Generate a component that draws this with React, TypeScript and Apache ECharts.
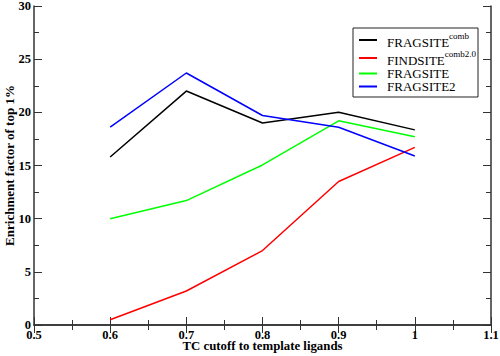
import React, { useEffect, useRef } from "react";
import * as echarts from "echarts";

const xValues = [0.6, 0.7, 0.8, 0.9, 1.0];
const fragsiteComb = [15.8, 22.0, 19.0, 20.0, 18.35];
const findsiteComb = [0.5, 3.2, 7.0, 13.5, 16.7];
const fragsite = [10.0, 11.7, 15.05, 19.2, 17.7];
const fragsite2 = [18.6, 23.7, 19.7, 18.6, 15.9];

const seriesNames = ["FRAGSITEcomb", "FINDSITEcomb2.0", "FRAGSITE", "FRAGSITE2"];
const seriesLabels: Record<string, [string, string]> = {
  FRAGSITEcomb: ["FRAGSITE", "comb"],
  "FINDSITEcomb2.0": ["FINDSITE", "comb2.0"],
  FRAGSITE: ["FRAGSITE", ""],
  FRAGSITE2: ["FRAGSITE2", ""],
};
const seriesColors = ["#000000", "#ff0000", "#00ff00", "#0000ff"];
const seriesValues = [fragsiteComb, findsiteComb, fragsite, fragsite2];

const xAxisName = "TC cutoff to template ligands";
const yAxisName = "Enrichment factor of top 1%";

const FONT = "'Liberation Serif', 'Times New Roman', serif";

export default function App() {
  const ref = useRef<HTMLDivElement>(null);
  useEffect(() => {
    if (!ref.current) return;
    const chart = echarts.init(ref.current, null, { renderer: "svg" });
    const axisColor = "#333";
    const fmtX = (v: number) => parseFloat(v.toFixed(2)).toString();
    const baseX = {
      type: "value",
      min: 0.5,
      max: 1.1,
      interval: 0.1,
      splitLine: { show: false },
      axisLine: { show: true, lineStyle: { color: axisColor, width: 1.5 } },
      axisTick: { show: true, inside: true, length: 8, lineStyle: { color: axisColor } },
      minorTick: { show: true, splitNumber: 2, length: 5, lineStyle: { color: axisColor } },
    };
    const baseY = {
      type: "value",
      min: 0,
      max: 30,
      interval: 5,
      splitLine: { show: false },
      axisLine: { show: true, lineStyle: { color: axisColor, width: 1.5 } },
      axisTick: { show: true, inside: true, length: 8, lineStyle: { color: axisColor } },
      minorTick: { show: true, splitNumber: 2, length: 5, lineStyle: { color: axisColor } },
    };
    chart.setOption({
      animation: false,
      backgroundColor: "#ffffff",
      grid: {
        left: 34,
        right: 9,
        top: 6,
        bottom: 31,
        containLabel: false,
        outerBoundsMode: "none",
      },
      graphic: [
        {
          type: "rect",
          z: 3,
          x: 0,
          y: 0,
          shape: { x: 353, y: 28, width: 125, height: 69 },
          style: { fill: "#fff", stroke: "#222", lineWidth: 1 },
        },
      ],
      legend: {
        orient: "vertical",
        left: 353,
        top: 28,
        padding: [3, 3, 3, 6],
        itemGap: 0,
        itemWidth: 18,
        itemHeight: 2,
        icon: "rect",
        borderWidth: 0,
        backgroundColor: "transparent",
        z: 5,
        data: seriesNames,
        formatter: (name: string) => {
          const [main, sup] = seriesLabels[name];
          return sup ? `{g|}{n|${main}}{s|${sup}}` : `{g|}{m|${main}}`;
        },
        textStyle: {
          fontFamily: FONT,
          fontSize: 13,
          color: "#000",
          rich: {
            g: { width: 5, fontSize: 13, lineHeight: 13 },
            n: { fontFamily: FONT, fontSize: 13, lineHeight: 13, verticalAlign: "bottom", color: "#000" },
            s: { fontFamily: FONT, fontSize: 9, lineHeight: 18, verticalAlign: "top", color: "#000" },
            m: { fontFamily: FONT, fontSize: 13, lineHeight: 13, color: "#000" },
          },
        },
      },
      xAxis: [
        {
          ...baseX,
          position: "bottom",
          name: xAxisName,
          nameLocation: "middle",
          nameGap: 15,
          nameMoveOverlap: false,
          nameTextStyle: {
            fontFamily: FONT,
            fontWeight: "bold",
            fontSize: 12.8,
            lineHeight: 12,
            color: "#000",
          },
          axisLabel: {
            margin: 5,
            fontFamily: FONT,
            fontWeight: "bold",
            fontSize: 12.5,
            lineHeight: 10,
            color: "#000",
            formatter: fmtX,
          },
        },
        { ...baseX, position: "top", axisLabel: { show: false } },
      ],
      yAxis: [
        {
          ...baseY,
          position: "left",
          name: yAxisName,
          nameLocation: "middle",
          nameGap: 18,
          nameMoveOverlap: false,
          nameTextStyle: { fontFamily: FONT, fontWeight: "bold", fontSize: 13, color: "#000" },
          axisLabel: {
            margin: 3,
            fontFamily: FONT,
            fontWeight: "bold",
            fontSize: 12.5,
            lineHeight: 10,
            color: "#000",
          },
        },
        { ...baseY, position: "right", axisLabel: { show: false } },
      ],
      series: seriesNames.map((name, i) => ({
        name,
        type: "line",
        xAxisIndex: 0,
        yAxisIndex: 0,
        showSymbol: false,
        symbol: "none",
        lineStyle: { color: seriesColors[i], width: 1.5 },
        itemStyle: { color: seriesColors[i] },
        data: xValues.map((x, j) => [x, seriesValues[i][j]]),
      })),
    });
    return () => chart.dispose();
  }, []);
  return (
    <div
      ref={ref}
      style={{ position: "fixed", left: 0, top: 0, width: 500, height: 356, background: "#fff" }}
    />
  );
}
